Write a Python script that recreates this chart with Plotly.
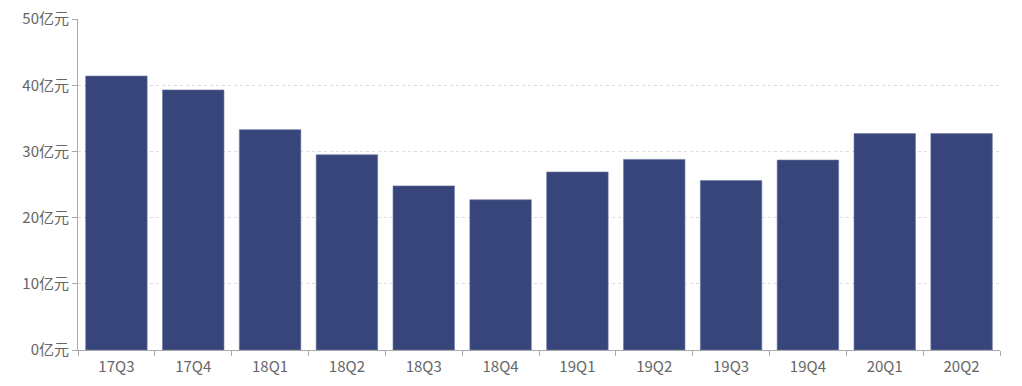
import plotly.graph_objects as go

categories = ["17Q3", "17Q4", "18Q1", "18Q2", "18Q3", "18Q4", "19Q1", "19Q2", "19Q3", "19Q4", "20Q1", "20Q2"]
values = [41.4, 39.3, 33.3, 29.5, 24.8, 22.7, 26.9, 28.8, 25.6, 28.7, 32.7, 32.7]
y_ticks = [0, 10, 20, 30, 40, 50]
y_tick_labels = [f"{v}亿元" for v in y_ticks]

fig = go.Figure(go.Bar(
    x=categories, y=values,
    marker=dict(color="#38457a", line=dict(color="#6a75a0", width=0.6)),
    width=0.8,
))

fig.update_layout(
    width=1022, height=386,
    margin=dict(l=70, r=30, t=11, b=44, autoexpand=False),
    paper_bgcolor="white", plot_bgcolor="white",
    font=dict(family="Noto Sans CJK SC, Noto Sans, sans-serif", size=15, color="#666666"),
    showlegend=False,
    bargap=0.2,
)
fig.update_xaxes(
    type="category", showline=True, linecolor="#aaaaaa", linewidth=1,
    ticks="outside", ticklen=5, tickcolor="#aaaaaa", showgrid=False,
    tickson="boundaries", tickfont=dict(size=15, color="#666666"),
    automargin=False, ticklabelstandoff=3,
)
fig.update_yaxes(
    range=[0, 50.02], tickvals=y_ticks, ticktext=y_tick_labels,
    showline=True, linecolor="#aaaaaa", linewidth=1,
    ticks="outside", ticklen=5, tickcolor="#aaaaaa",
    showgrid=True, gridcolor="#dcdcdc", griddash="dot", gridwidth=1,
    zeroline=False, tickfont=dict(size=15, color="#666666"),
    automargin=False, ticklabeloverflow="allow",
)

fig.write_html("out.html")
